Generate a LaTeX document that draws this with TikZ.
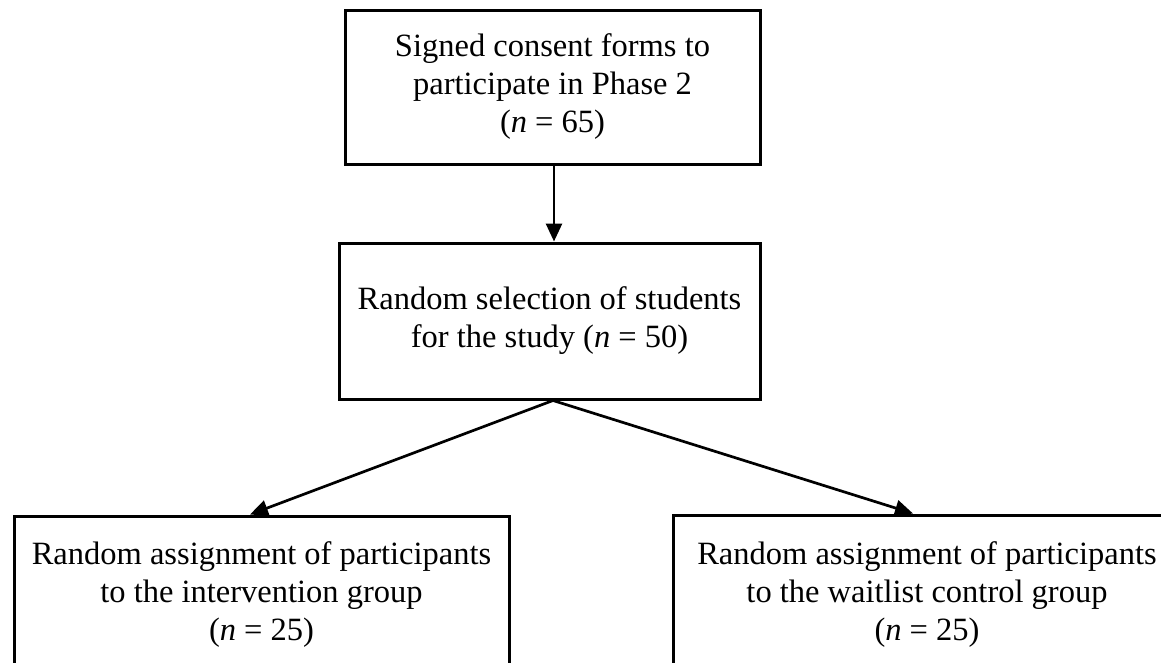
\documentclass[tikz,border=0pt]{standalone}
\usepackage{fontspec}
\setmainfont{Liberation Serif}
\usetikzlibrary{arrows.meta}
\begin{document}
\begin{tikzpicture}[x=1pt,y=-1pt,
  flowbox/.style={draw=black,line width=3pt,rectangle,align=center,
    inner sep=0pt,font=\fontsize{32.5}{38}\selectfont},
  flowarrow/.style={line width=2.7pt,-{Triangle[width=16pt,length=18pt]}}]
  \useasboundingbox (0,0) rectangle (1161,662);
  \clip (0,0) rectangle (1161,662);
  \fill[white] (0,0) rectangle (1161,662);

  \node[flowbox,minimum width=415pt,minimum height=154pt] (consent) at (552.5,87)
    {Signed consent forms to\\participate in Phase 2\\(\textit{n} = 65)};
  \node[flowbox,minimum width=421pt,minimum height=156pt] (select) at (549.5,321)
    {Random selection of students\\for the study (\textit{n} = 50)};
  \node[flowbox,minimum width=495pt,minimum height=158pt] (interv) at (261.5,595)
    {Random assignment of participants\\to the intervention group\\(\textit{n} = 25)};
  \node[flowbox,minimum width=508pt,minimum height=159pt] (wait) at (927,594.5)
    {Random assignment of participants\\to the waitlist control group\\(\textit{n} = 25)};

  \draw[flowarrow] ([xshift=1.5pt]consent.south) -- ([xshift=4.5pt]select.north);
  \draw[flowarrow] ([xshift=3.5pt]select.south) -- ([xshift=-11.5pt]interv.north);
  \draw[flowarrow] ([xshift=3.5pt]select.south) -- ([xshift=-14pt]wait.north);
\end{tikzpicture}
\end{document}
